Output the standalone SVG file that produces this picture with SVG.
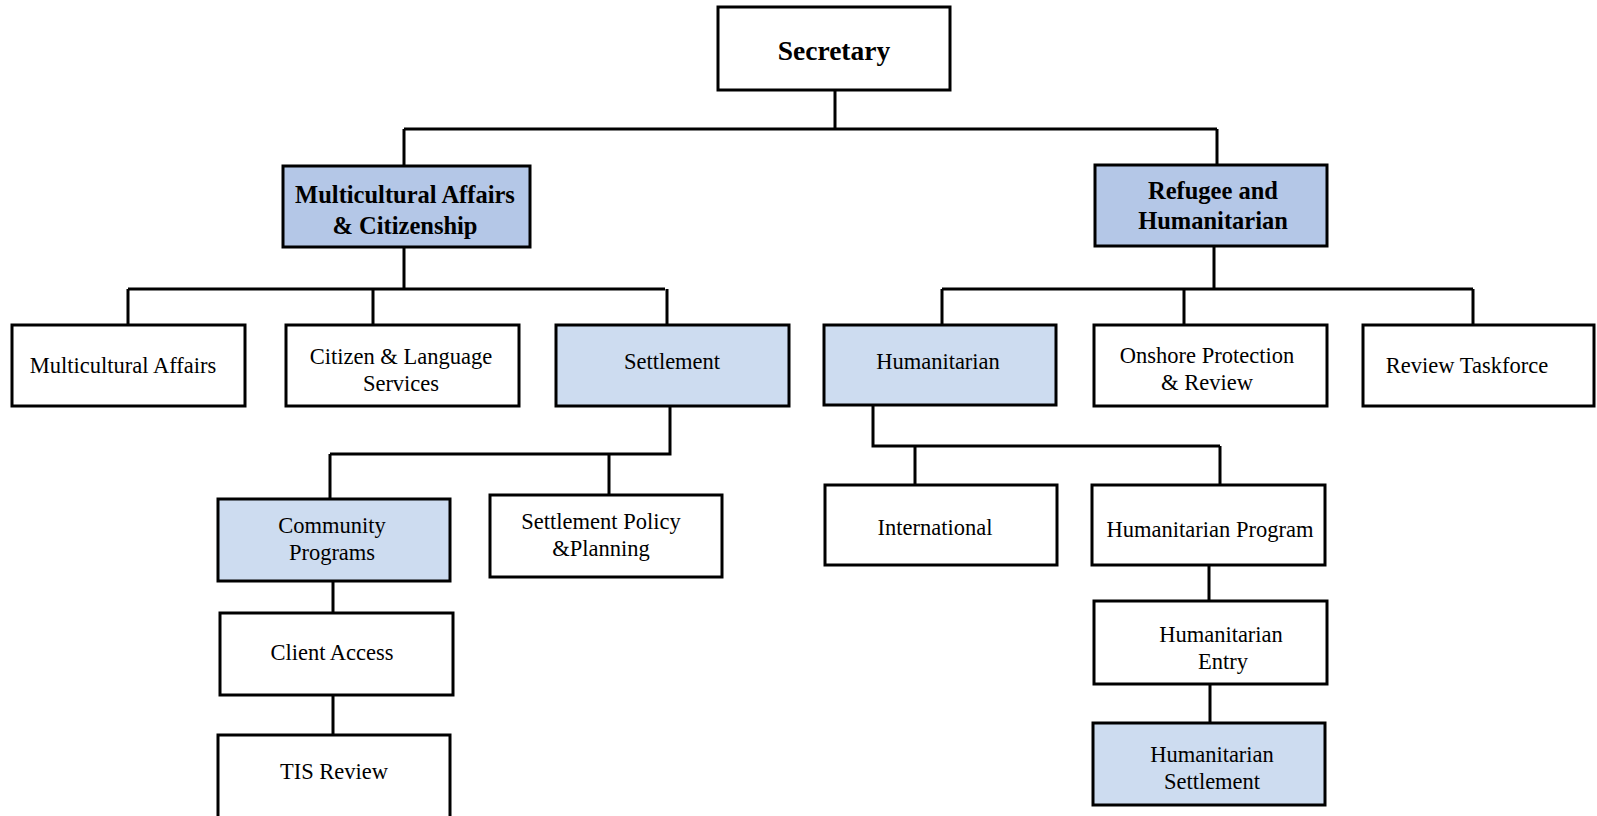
<svg xmlns="http://www.w3.org/2000/svg" width="1597" height="816" viewBox="0 0 1597 816">
<style>
.box{stroke:#000;stroke-width:3;fill:#fff}
.dk{fill:#b4c7e7}
.lt{fill:#cddcf0}
.t{font-family:"Liberation Serif","Times New Roman",serif;font-size:22.5px;fill:#000;text-anchor:middle}
.b{font-weight:bold;font-size:24.5px}
.conn{stroke:#000;stroke-width:3;fill:none}
</style>
<rect width="1597" height="816" fill="#fff"/>
<g id="connectors" class="conn">
<path d="M835 90V129M404 129H1217M404 129V166M1217 129V166"/>
<path d="M404 247V289M128 289H665M128 289V325M373 289V325M667 289V325"/>
<path d="M670 406V454H330M330 454V499M609 454V495"/>
<path d="M333 581V613M333 695V735"/>
<path d="M1214 246V289M942 289H1473M942 289V325M1184 289V325M1473 289V325"/>
<path d="M873 405V446H1220M915 446V485M1220 446V485"/>
<path d="M1209 565V601M1210 684V723"/>
</g>
<g id="secretary"><rect class="box" x="718" y="7" width="232" height="83"/><text class="t b" x="834" y="60" style="font-size:27.5px">Secretary</text></g>
<g id="mac"><rect class="box dk" x="283" y="166" width="247" height="81"/><text class="t b" x="405" y="203">Multicultural Affairs</text><text class="t b" x="405" y="234">&amp; Citizenship</text></g>
<g id="rh"><rect class="box dk" x="1095" y="165" width="232" height="81"/><text class="t b" x="1213" y="199">Refugee and</text><text class="t b" x="1213" y="229">Humanitarian</text></g>
<g id="multicultural-affairs"><rect class="box" x="12" y="325" width="233" height="81"/><text class="t" x="123" y="373">Multicultural Affairs</text></g>
<g id="citizen"><rect class="box" x="286" y="325" width="233" height="81"/><text class="t" x="401" y="364">Citizen &amp; Language</text><text class="t" x="401" y="391">Services</text></g>
<g id="settlement"><rect class="box lt" x="556" y="325" width="233" height="81"/><text class="t" x="672" y="369">Settlement</text></g>
<g id="community"><rect class="box lt" x="218" y="499" width="232" height="82"/><text class="t" x="332" y="533">Community</text><text class="t" x="332" y="560">Programs</text></g>
<g id="settlement-policy"><rect class="box" x="490" y="495" width="232" height="82"/><text class="t" x="601" y="529">Settlement Policy</text><text class="t" x="601" y="556">&amp;Planning</text></g>
<g id="client-access"><rect class="box" x="220" y="613" width="233" height="82"/><text class="t" x="332" y="660">Client Access</text></g>
<g id="tis-review"><rect class="box" x="218" y="735" width="232" height="90"/><text class="t" x="334" y="779">TIS Review</text></g>
<g id="humanitarian"><rect class="box lt" x="824" y="325" width="232" height="80"/><text class="t" x="938" y="369">Humanitarian</text></g>
<g id="onshore"><rect class="box" x="1094" y="325" width="233" height="81"/><text class="t" x="1207" y="363">Onshore Protection</text><text class="t" x="1207" y="390">&amp; Review</text></g>
<g id="review-taskforce"><rect class="box" x="1363" y="325" width="231" height="81"/><text class="t" x="1467" y="373">Review Taskforce</text></g>
<g id="international"><rect class="box" x="825" y="485" width="232" height="80"/><text class="t" x="935" y="535">International</text></g>
<g id="humanitarian-program"><rect class="box" x="1092" y="485" width="233" height="80"/><text class="t" x="1210" y="537">Humanitarian Program</text></g>
<g id="humanitarian-entry"><rect class="box" x="1094" y="601" width="233" height="83"/><text class="t" x="1221" y="642">Humanitarian</text><text class="t" x="1223" y="669">Entry</text></g>
<g id="humanitarian-settlement"><rect class="box lt" x="1093" y="723" width="232" height="82"/><text class="t" x="1212" y="762">Humanitarian</text><text class="t" x="1212" y="789">Settlement</text></g>
</svg>
